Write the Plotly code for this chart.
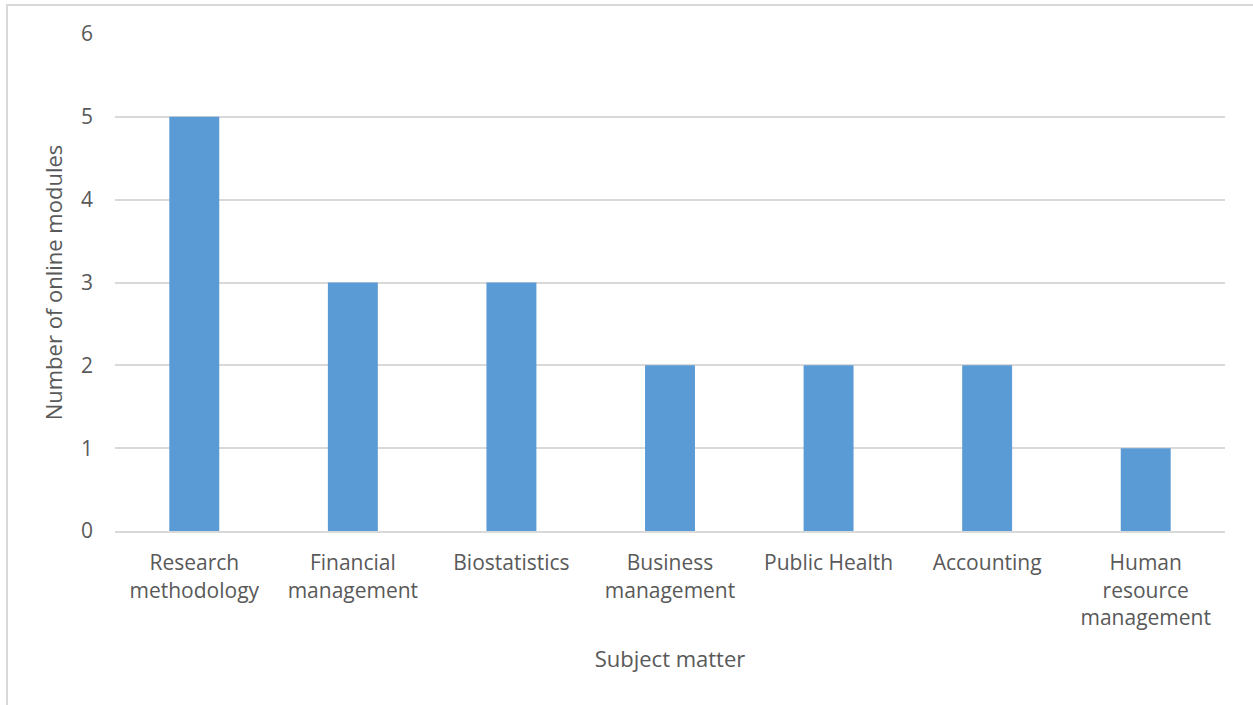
import plotly.graph_objects as go

categories = ["Research<br>methodology", "Financial<br>management", "Biostatistics",
              "Business<br>management", "Public Health", "Accounting",
              "Human<br>resource<br>management"]
values = [5, 3, 3, 2, 2, 2, 1]
y_ticks = [0, 1, 2, 3, 4, 5, 6]

W, H = 1253, 705
L, R, T, B = 115, 28, 34, 174

fig = go.Figure(go.Bar(x=categories, y=values, marker=dict(color="#5b9bd5", line=dict(width=0)),
                       width=0.315))

pw = W - L - R
ph = H - T - B
def px_x(p):
    return (p - L) / pw
def px_y(p):
    return (H - B - p) / ph

fig.update_layout(
    width=W, height=H,
    margin=dict(l=L, r=R, t=T, b=B),
    paper_bgcolor="white", plot_bgcolor="white",
    font=dict(family="Open Sans", size=21, color="#595959"),
    showlegend=False,
    xaxis=dict(showgrid=False, showline=True, linecolor="#d9d9d9", linewidth=2,
               ticks="", ticklabelstandoff=12, tickfont=dict(size=21, color="#595959"),
               title=dict(text="Subject matter", font=dict(size=22, color="#595959"), standoff=22)),
    yaxis=dict(range=[0, 6], tickvals=y_ticks, showgrid=True, gridcolor="#d9d9d9", gridwidth=2,
               zeroline=False, showline=False, ticks="", ticklabelstandoff=21,
               tickfont=dict(size=21, color="#595959"),
               title=dict(text="Number of online modules", font=dict(size=22, color="#595959"), standoff=12)),
    shapes=[dict(type="rect", xref="paper", yref="paper",
                 x0=px_x(7), x1=px_x(1262), y0=px_y(5), y1=px_y(712),
                 line=dict(color="#d9d9d9", width=2), fillcolor="rgba(0,0,0,0)", layer="below")],
)

fig.write_html("out.html")
